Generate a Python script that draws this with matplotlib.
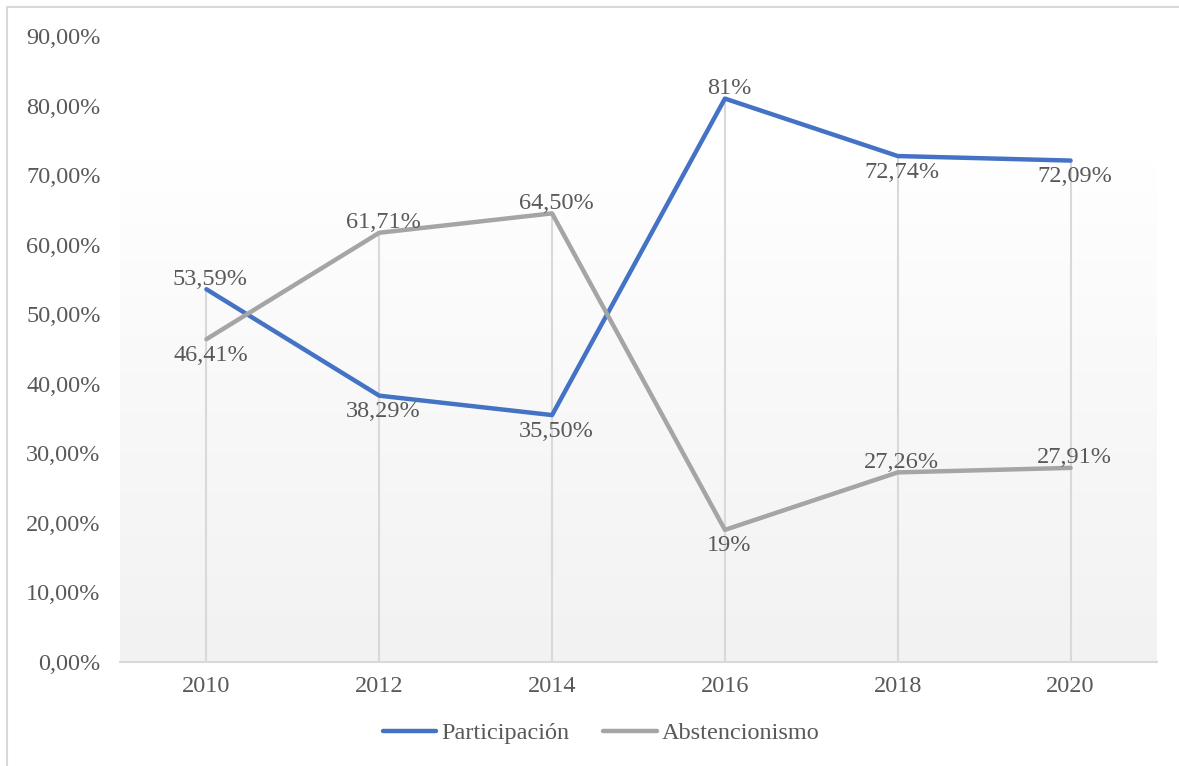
import numpy as np
import matplotlib.pyplot as plt
from matplotlib.patches import Rectangle

# data
years = ["2010", "2012", "2014", "2016", "2018", "2020"]
participacion = [53.59, 38.29, 35.50, 81.0, 72.74, 72.09]
abstencionismo = [46.41, 61.71, 64.50, 19.0, 27.26, 27.91]
part_labels = ["53,59%", "38,29%", "35,50%", "81%", "72,74%", "72,09%"]
abst_labels = ["46,41%", "61,71%", "64,50%", "19%", "27,26%", "27,91%"]
part_side = ["above", "below", "below", "above", "below", "below"]
abst_side = ["below", "above", "above", "below", "above", "above"]

blue = "#4472C4"
gray = "#A5A5A5"
text_col = "#595959"
plt.rcParams["font.family"] = ["Liberation Serif", "DejaVu Serif"]
fs = 17.5

W, H = 1179, 766
fig = plt.figure(figsize=(W / 100, H / 100), dpi=100)
fig.patch.set_facecolor("white")

# chart border (only top/left edges fall inside the image)
fig.add_artist(Rectangle((7 / W, -0.1), 1.2, (H - 7) / H + 0.1, transform=fig.transFigure,
                         fill=False, edgecolor="#D9D9D9", linewidth=1.5))

ax = fig.add_axes([120 / W, (H - 662) / H, (1157 - 120) / W, (662 - 36) / H])
x = np.arange(len(years))
ax.set_xlim(-0.5, len(years) - 0.5)
ax.set_ylim(0, 90)

# plot area gradient: white on top, light gray at the bottom
t = np.linspace(0.0, 1.0, 256).reshape(-1, 1)
shade = 1.0 - 0.051 * np.clip((t - 0.2) / 0.8, 0, 1) ** 0.9
img = np.dstack([shade, shade, shade])
ax.imshow(img, extent=[-0.5, len(years) - 0.5, 0, 90], aspect="auto", zorder=0,
          interpolation="bilinear")

# drop lines from the highest point of each year
tops = np.maximum(participacion, abstencionismo)
ax.vlines(x, 0, tops, color="#D9D9D9", linewidth=1.5, zorder=1)

ax.plot(x, participacion, color=blue, linewidth=3.2, solid_capstyle="round",
        label="Participación", zorder=3)
ax.plot(x, abstencionismo, color=gray, linewidth=3.2, solid_capstyle="round",
        label="Abstencionismo", zorder=3)

for vals, labels, sides in [(participacion, part_labels, part_side),
                            (abstencionismo, abst_labels, abst_side)]:
    for xi, v, lab, side in zip(x, vals, labels, sides):
        dy = 10 if side == "above" else -16
        ax.annotate(lab, (xi, v), xytext=(4, dy), textcoords="offset pixels",
                    ha="center", va="center", fontsize=fs, color=text_col, zorder=4)

ax.set_yticks(np.arange(0, 91, 10))
ax.set_yticklabels([f"{v:.2f}%".replace(".", ",") for v in np.arange(0, 91, 10)])
ax.set_xticks(x)
ax.set_xticklabels(years)
ax.tick_params(axis="both", length=0, labelsize=fs, colors=text_col)
ax.tick_params(axis="y", pad=14)
ax.tick_params(axis="x", pad=10)
for s in ["top", "right", "left"]:
    ax.spines[s].set_visible(False)
ax.spines["bottom"].set_color("#D9D9D9")
ax.spines["bottom"].set_linewidth(1.5)

leg = fig.legend(loc="center", bbox_to_anchor=(601 / W, (H - 733) / H), ncol=2,
                 frameon=False, fontsize=fs, handlelength=2.2, handletextpad=0.2,
                 columnspacing=1.4)
for txt in leg.get_texts():
    txt.set_color(text_col)

fig.savefig("out.png", dpi=100)
